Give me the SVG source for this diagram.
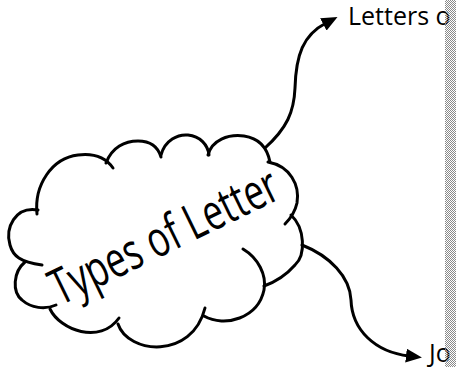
<svg xmlns="http://www.w3.org/2000/svg" width="456" height="367" viewBox="0 0 456 367">
  <style>
    .ln { fill: none; stroke: #000; stroke-width: 3; stroke-linecap: round; stroke-linejoin: round; }
    .lbl { font-family: "Open Sans", "Noto Sans", sans-serif; font-size: 25px; fill: #000; }
    .title { font-family: "Open Sans", "Noto Sans", sans-serif; font-size: 50px; fill: #000; }
  </style>
  <defs>
    <marker id="arr" markerUnits="userSpaceOnUse" viewBox="0 0 16 14" markerWidth="16" markerHeight="14" refX="3" refY="7" orient="auto">
      <path d="M0,0 L16,7 L0,14 z" fill="#000"/>
    </marker>
    <pattern id="dots" width="2" height="2" patternUnits="userSpaceOnUse">
      <rect x="0" y="0" width="1" height="1" fill="#8a8a8a"/>
      <rect x="1" y="1" width="1" height="1" fill="#8a8a8a"/>
    </pattern>
  </defs>
  <rect width="456" height="367" fill="#fff"/>

  <g id="connectors">
    <path class="ln" d="M265,148 C287,128 294,112 295,88 C296,55 303,35 326,23" marker-end="url(#arr)"/>
    <path class="ln" d="M302,245 C330,256 350,277 351,300 C352,330 375,352 409,356" marker-end="url(#arr)"/>
  </g>

  <g id="types-of-letter">
    <path class="ln" d="M37,214 C34,185 52,158 78,155 C94,153 106,158 113,168"/>
    <path class="ln" d="M106,163 C112,147 125,141 138,141 C150,141 158,147 161,157"/>
    <path class="ln" d="M161,155 C165,140 178,134 188,135 C200,136 208,145 209,155"/>
    <path class="ln" d="M208,155 C212,140 228,134 244,136 C258,138 267,147 270,162"/>
    <path class="ln" d="M268,162 C290,166 300,185 297,203 C295,212 291,218 285,224"/>
    <path class="ln" d="M291,215 C305,228 306,255 295,265 C288,273 278,281 264,286"/>
    <path class="ln" d="M204,316 C225,328 258,318 264,290 C267,275 258,258 243,249"/>
    <path class="ln" d="M118,324 C128,354 192,360 205,308"/>
    <path class="ln" d="M50,309 C60,330 100,345 119,318"/>
    <path class="ln" d="M25,262 C13,272 12,292 22,300 C31,308 45,310 56,305"/>
    <path class="ln" d="M38,210 C15,206 5,228 10,245 C13,256 20,262 42,265"/>
    <text class="title" transform="translate(60,306) rotate(-26)" x="0" y="0" textLength="248" lengthAdjust="spacingAndGlyphs">Types of Letter</text>
  </g>

  <g id="letters-of">
    <text class="lbl" x="348" y="25">Letters o</text>
  </g>

  <g id="jo">
    <text class="lbl" x="429" y="362">Jo</text>
  </g>

  <rect x="445" y="0" width="11" height="367" fill="url(#dots)"/>
</svg>
